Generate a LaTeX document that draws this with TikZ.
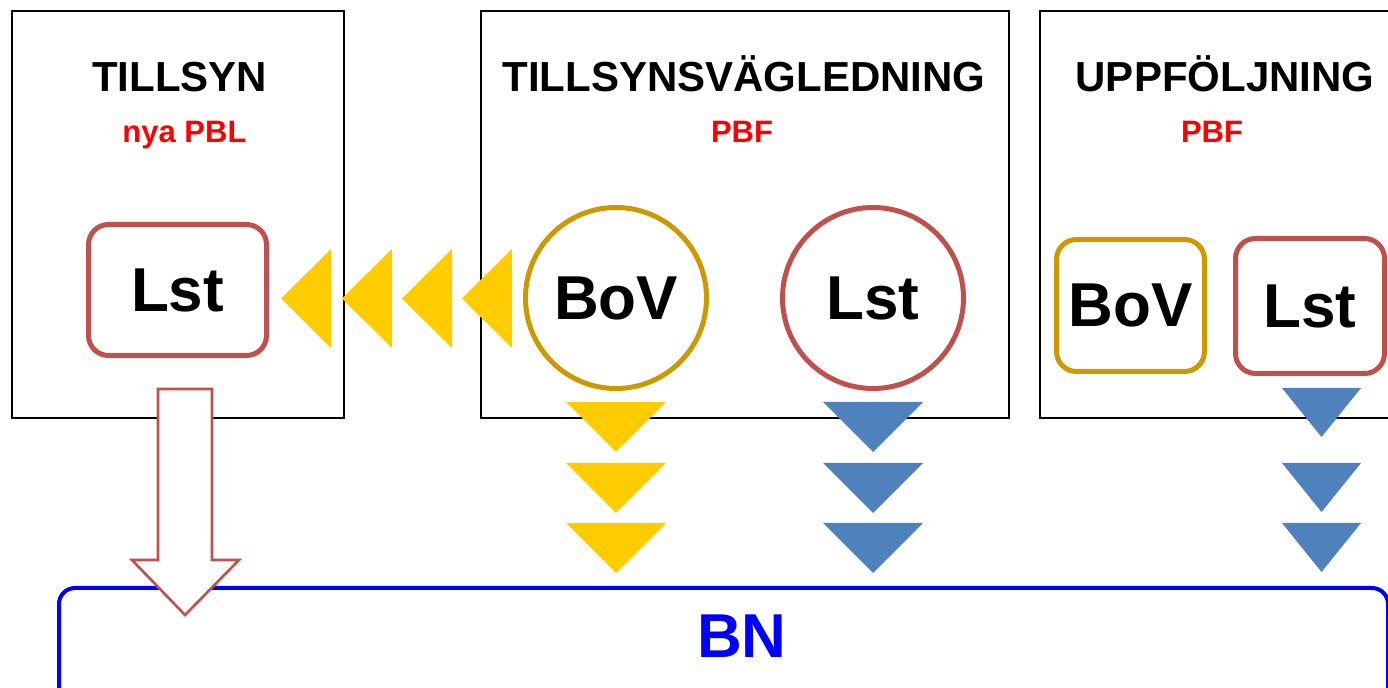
\documentclass[tikz,border=0pt]{standalone}
\usepackage{fontspec}
\setmainfont{Liberation Sans}
\usetikzlibrary{positioning}
\definecolor{lstred}{HTML}{C0504D}
\definecolor{bovgold}{HTML}{CC9900}
\definecolor{flowyellow}{HTML}{FFCC00}
\definecolor{flowblue}{HTML}{4F81BD}
\definecolor{bnblue}{HTML}{0000FF}

\begin{document}
\begin{tikzpicture}[x=0.5pt,y=-0.5pt,
  panel/.style={draw,line width=1pt,minimum height=203.5pt,inner sep=0pt},
  title/.style={font=\bfseries\fontsize{21}{25}\selectfont,anchor=base},
  lawtag/.style={text=red,font=\bfseries\fontsize{15.5}{18}\selectfont,anchor=base},
  actor/.style={font=\bfseries\fontsize{31}{36}\selectfont,line width=2.5pt,inner sep=0pt,fill=white},
  lstbox/.style={actor,draw=lstred,rounded corners=10pt},
  bovbox/.style={actor,draw=bovgold,rounded corners=10pt},
  lstcirc/.style={actor,draw=lstred,circle,minimum size=90.5pt},
  bovcirc/.style={actor,draw=bovgold,circle,minimum size=90.5pt},
  bnbox/.style={draw=bnblue,line width=2pt,rounded corners=8pt,inner sep=0pt},
  bntext/.style={text=bnblue,font=\bfseries\fontsize{31}{36}\selectfont,anchor=base},
  bigarrow/.style={draw=lstred,fill=white,line width=1.3pt}]
\useasboundingbox (0,0) rectangle (1388,688);
\clip (0,0) rectangle (1388,688);

% panels
\node (tillsyn) [panel,minimum width=166pt] at (177.5,215) {};
\node (vagledning) [panel,minimum width=264pt] at (744.5,215) {};
\node (uppfoljning) [panel,minimum width=190pt] at (1229.5,215) {};

\node (t1) [title] at (179.5,92) {TILLSYN};
\node (l1) [lawtag] at (184.5,143) {nya PBL};
\node (t2) [title] at (744,92) {TILLSYNSVÄGLEDNING};
\node (l2) [lawtag] at (742,143) {PBF};
\node (t3) [title] at (1225,92) {UPPFÖLJNING};
\node (l3) [lawtag] at (1212,143) {PBF};

% actors
\node (lst1) [lstbox,minimum width=89pt,minimum height=65.5pt] at (177.5,290) {Lst};
\node (bov2) [bovcirc] at (616,298) {BoV};
\node (lst2) [lstcirc] at (873,298) {Lst};
\node (bov3) [bovbox,minimum width=74pt,minimum height=66pt] at (1130.5,305.5) {BoV};
\node (lst3) [lstbox,minimum width=74.5pt,minimum height=67.5pt] at (1310,306) {Lst};

% flow marks
\foreach \tip in {281,342,402,462}
  \fill[flowyellow] (\tip,298.5) -- (\tip+50,249) -- (\tip+50,348) -- cycle;
\foreach \top in {402,463,523}
{
  \fill[flowyellow] (566,\top) -- (666,\top) -- (616,\top+50) -- cycle;
  \fill[flowblue] (823,\top) -- (923,\top) -- (873,\top+50) -- cycle;
}
\foreach \top in {388,463,523}
  \fill[flowblue] (1282,\top) -- (1361,\top) -- (1321.5,\top+49) -- cycle;

% BN
\node (bn) [bnbox,anchor=north west,minimum width=664.5pt,minimum height=60pt] at (57,586) {};
\node (bnlabel) [bntext] at (742,658) {BN};

\draw[bigarrow] (158,389) -- (212,389) -- (212,560) -- (239,560) -- (185,615)
  -- (132,560) -- (158,560) -- cycle;
\end{tikzpicture}
\end{document}
